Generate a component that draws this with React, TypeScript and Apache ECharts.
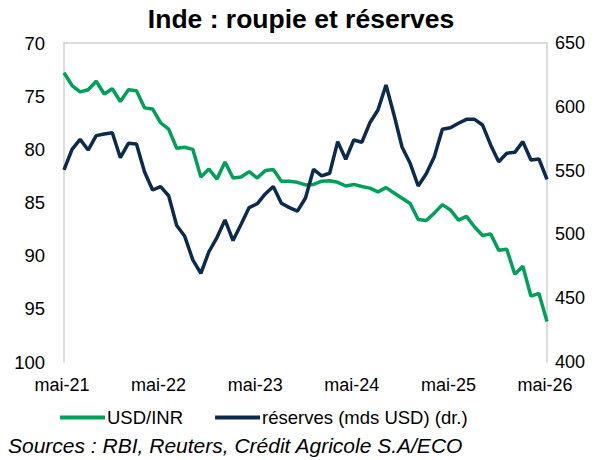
import React, { useEffect, useRef } from "react";
import * as echarts from "echarts";

const monthNames = ["janv", "févr", "mars", "avr", "mai", "juin", "juil", "août", "sept", "oct", "nov", "déc"];
const startYear = 2021;
const startMonth = 4; // mai
const nMonths = 61;
const categories: string[] = [];
for (let i = 0; i < nMonths; i++) {
  const m = (startMonth + i) % 12;
  const y = startYear + Math.floor((startMonth + i) / 12);
  categories.push(`${monthNames[m]}-${String(y).slice(2)}`);
}

const usdInr = [
  72.8, 74.0, 74.6, 74.4, 73.6, 74.8, 74.3, 75.5, 74.4, 74.5,
  76.1, 76.2, 77.5, 78.1, 79.9, 79.8, 80.0, 82.6, 81.85, 82.8,
  81.2, 82.7, 82.6, 82.1, 82.7, 82.0, 81.9, 83.0, 83.0, 83.1,
  83.35, 83.3, 83.0, 82.95, 83.1, 83.45, 83.3, 83.5, 83.65, 84.0,
  83.6, 84.1, 84.6, 85.1, 86.6, 86.7, 86.0, 85.2, 85.7, 86.65,
  86.3, 87.3, 88.1, 87.95, 89.5, 89.4, 91.75, 91.0, 93.8, 93.55,
  96.2,
];

const reserves = [
  550.5, 566.7, 574.5, 566.1, 577.4, 578.7, 579.7, 560.1, 571.4, 570.8,
  549.1, 534.8, 537.4, 530.3, 507, 498.5, 480, 469.5, 486.4, 497.5,
  511.3, 495.2, 508, 521, 524, 531.7, 537.5, 524.4, 521, 518.3,
  528.5, 551, 545.8, 547.9, 572.7, 558.9, 574, 572.2, 587.5, 597.5,
  617.1, 593.6, 568.3, 555.7, 537.9, 547.5, 560.9, 582.4, 583.6, 587.1,
  590.2, 590.2, 585.7, 570.1, 557, 563.6, 564.3, 572.7, 558.3, 559.1,
  543.2,
];

const leftTicks = { min: 70, max: 100, interval: 5 };
const rightTicks = { min: 400, max: 650, interval: 50 };

const titleText = "Inde : roupie et réserves";
const seriesNames = ["USD/INR", "réserves (mds USD) (dr.)"];
const sourceText = "Sources : RBI, Reuters, Crédit Agricole S.A/ECO";

const GREEN = "#00a05a";
const NAVY = "#0c2a4b";
const AXIS = "#d0d0d0";
const FONT = "'Liberation Sans', Arial, sans-serif";

export default function App() {
  const ref = useRef<HTMLDivElement>(null);
  useEffect(() => {
    document.body.style.margin = "0";
    const chart = echarts.init(ref.current!, null, { renderer: "svg" });
    chart.setOption({
      animation: false,
      backgroundColor: "#ffffff",
      textStyle: { fontFamily: FONT },
      title: {
        text: titleText,
        left: "center",
        top: 6,
        padding: 0,
        textStyle: { fontFamily: FONT, fontSize: 26.5, fontWeight: "bold", color: "#000", lineHeight: 26 },
      },
      grid: { left: 64, right: 55, top: 43, bottom: 98, containLabel: false },
      legend: {
        data: seriesNames,
        left: 60,
        top: 408,
        padding: 0,
        icon: "rect",
        itemWidth: 45,
        itemHeight: 4,
        itemGap: 32,
        textStyle: { fontFamily: FONT, fontSize: 18.5, color: "#000", padding: [0, 0, 0, -3] },
      },
      xAxis: [
        {
          type: "category",
          data: categories,
          boundaryGap: false,
          position: "bottom",
          axisLine: { show: false },
          axisTick: { show: false },
          axisLabel: {
            interval: 11,
            margin: 14,
            fontFamily: FONT,
            fontSize: 18,
            color: "#000",
            padding: [0, 4, 0, 0],
          },
          splitLine: { show: false },
        },
        {
          type: "category",
          data: categories,
          boundaryGap: false,
          position: "top",
          axisLine: { show: true, lineStyle: { color: AXIS, width: 1.5 } },
          axisTick: { show: false },
          axisLabel: { show: false },
          splitLine: { show: false },
        },
      ],
      yAxis: [
        {
          type: "value",
          inverse: true,
          min: leftTicks.min,
          max: leftTicks.max,
          interval: leftTicks.interval,
          position: "left",
          axisLine: { show: true, lineStyle: { color: AXIS, width: 1.5 } },
          axisTick: { show: false },
          splitLine: { show: false },
          axisLabel: { margin: 19, fontFamily: FONT, fontSize: 18.5, color: "#000" },
        },
        {
          type: "value",
          min: rightTicks.min,
          max: rightTicks.max,
          interval: rightTicks.interval,
          position: "right",
          axisLine: { show: true, lineStyle: { color: AXIS, width: 1.5 } },
          axisTick: { show: false },
          splitLine: { show: false },
          axisLabel: { margin: 8, fontFamily: FONT, fontSize: 18, color: "#000" },
        },
      ],
      series: [
        {
          name: seriesNames[0],
          type: "line",
          data: usdInr,
          xAxisIndex: 0,
          yAxisIndex: 0,
          symbol: "none",
          lineStyle: { color: GREEN, width: 3.5 },
          itemStyle: { color: GREEN },
        },
        {
          name: seriesNames[1],
          type: "line",
          data: reserves,
          xAxisIndex: 0,
          yAxisIndex: 1,
          symbol: "none",
          lineStyle: { color: NAVY, width: 3.5 },
          itemStyle: { color: NAVY },
        },
      ],
      graphic: [
        {
          type: "text",
          left: 8,
          top: 435,
          style: {
            text: sourceText,
            fontFamily: FONT,
            fontSize: 21,
            fontStyle: "italic",
            fill: "#000",
          },
        },
      ],
    });
    return () => chart.dispose();
  }, []);
  return <div ref={ref} style={{ width: 602, height: 460 }} />;
}
